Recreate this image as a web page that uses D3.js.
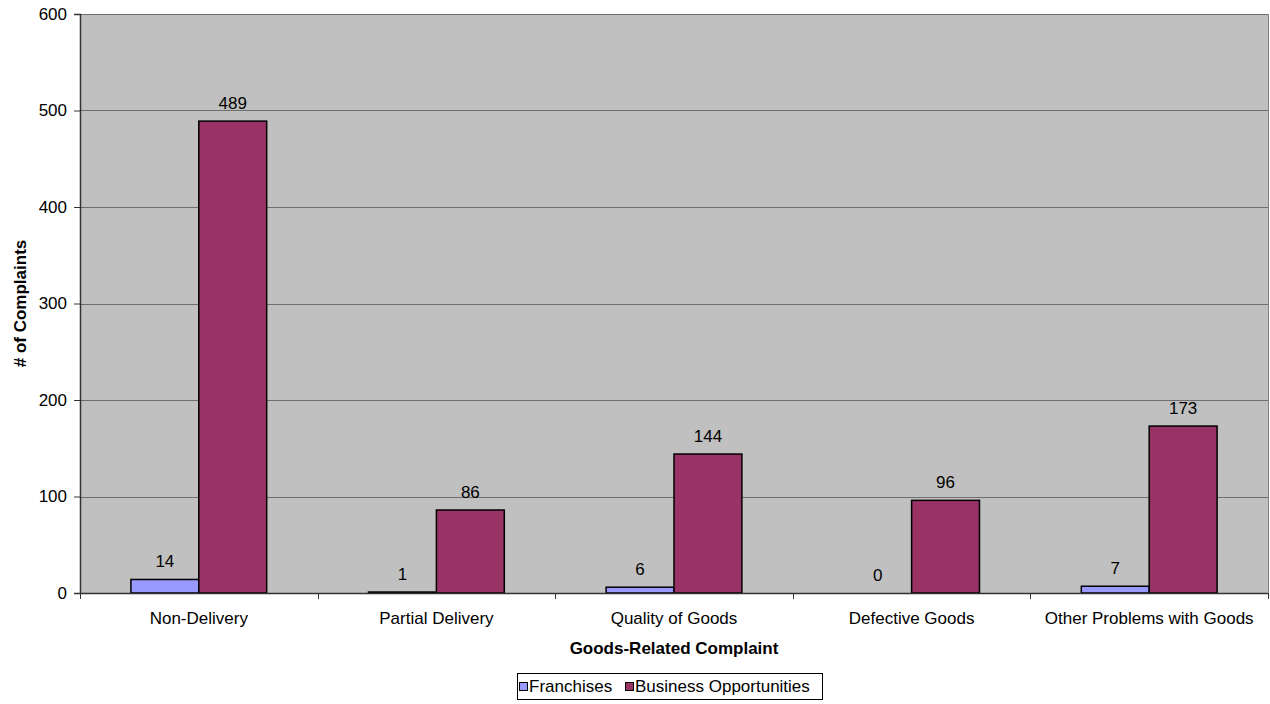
<!DOCTYPE html>
<html>
<head>
<meta charset="utf-8">
<script src="https://cdn.jsdelivr.net/npm/d3@7"></script>
<style>
  html, body { margin: 0; padding: 0; background: #fff; }
  svg text { font-family: "Liberation Sans", Arial, sans-serif; fill: #000; }
</style>
</head>
<body>
<svg id="chart" width="1270" height="704"></svg>
<script>
const categories = ["Non-Delivery", "Partial Delivery", "Quality of Goods", "Defective Goods", "Other Problems with Goods"];
const seriesNames = ["Franchises", "Business Opportunities"];
const franchises = [14, 1, 6, 0, 7];
const businessOpportunities = [489, 86, 144, 96, 173];
const yTicks = [0, 100, 200, 300, 400, 500, 600];
const colors = ["#9999FF", "#993366"];

const FONT = "Liberation Sans, Arial, sans-serif";
const svg = d3.select("#chart");
const plot = { left: 80, right: 1268, top: 14, bottom: 593 };

const x = d3.scaleBand().domain(categories).range([plot.left, plot.right]).paddingInner(0).paddingOuter(0);
const groupWidth = x.bandwidth() * 2 / 3.5;
const xs = d3.scaleBand().domain(seriesNames).range([0, groupWidth]).padding(0);
const y = d3.scaleLinear().domain([0, 600]).range([plot.bottom, plot.top]);

// plot background
svg.append("rect")
  .attr("x", plot.left).attr("y", plot.top)
  .attr("width", plot.right - plot.left).attr("height", plot.bottom - plot.top)
  .attr("fill", "#C0C0C0");

// gridlines
svg.append("g").selectAll("line").data(yTicks.filter(d => d > 0)).join("line")
  .attr("x1", plot.left).attr("x2", plot.right)
  .attr("y1", d => Math.round(y(d)) + 0.5).attr("y2", d => Math.round(y(d)) + 0.5)
  .attr("stroke", "#6e6e6e").attr("stroke-width", 1);

// right border of plot area
svg.append("line")
  .attr("x1", plot.right + 0.5).attr("x2", plot.right + 0.5)
  .attr("y1", plot.top).attr("y2", plot.bottom)
  .attr("stroke", "#808080");

// bars and value labels
const seriesData = [franchises, businessOpportunities];
seriesData.forEach((vals, si) => {
  const g = svg.append("g");
  const bx = c => x(c) + (x.bandwidth() - groupWidth) / 2 + xs(seriesNames[si]);
  g.selectAll("rect").data(categories).join("rect")
    .attr("x", c => bx(c))
    .attr("y", (c, i) => y(vals[i]))
    .attr("width", xs.bandwidth())
    .attr("height", (c, i) => y(0) - y(vals[i]))
    .attr("fill", colors[si])
    .attr("stroke", "#000").attr("stroke-width", (c, i) => vals[i] > 0 ? 1.5 : 0);
  g.selectAll("text").data(categories).join("text")
    .attr("x", c => bx(c) + xs.bandwidth() / 2)
    .attr("y", (c, i) => y(vals[i]) - 12)
    .attr("text-anchor", "middle")
    .attr("font-size", 17)
    .text((c, i) => vals[i]);
});

// y axis
const yAxis = d3.axisLeft(y).tickValues(yTicks).tickSize(6).tickPadding(7);
const gy = svg.append("g").attr("transform", `translate(${plot.left},0)`).call(yAxis);
gy.selectAll("path").attr("stroke", "#333").attr("stroke-width", 1.5);
gy.selectAll("line").attr("stroke", "#333");
gy.selectAll("text").attr("font-size", 17).style("font-family", FONT);

// x axis
const xAxis = d3.axisBottom(x).tickSize(0).tickPadding(19);
const gx = svg.append("g").attr("transform", `translate(0,${plot.bottom})`).call(xAxis);
gx.selectAll("path").attr("stroke", "#333").attr("stroke-width", 1.5).attr("d", `M${plot.left},0.5H${plot.right}`);
gx.selectAll("text").attr("font-size", 17).style("font-family", FONT);
// category boundary ticks
svg.append("g").selectAll("line").data(categories.concat(["end"])).join("line")
  .attr("x1", (c, i) => Math.round(plot.left + i * x.bandwidth()) + 0.5)
  .attr("x2", (c, i) => Math.round(plot.left + i * x.bandwidth()) + 0.5)
  .attr("y1", plot.bottom).attr("y2", plot.bottom + 6)
  .attr("stroke", "#333");

// axis titles
svg.append("text")
  .attr("x", (plot.left + plot.right) / 2).attr("y", 654)
  .attr("text-anchor", "middle").attr("font-size", 17).attr("font-weight", "bold")
  .text("Goods-Related Complaint");
svg.append("text")
  .attr("transform", `translate(26,${(plot.top + plot.bottom) / 2}) rotate(-90)`)
  .attr("text-anchor", "middle").attr("font-size", 17).attr("font-weight", "bold")
  .text("# of Complaints");

// legend
const legend = svg.append("g");
legend.append("rect")
  .attr("x", 517.5).attr("y", 673.5).attr("width", 305).attr("height", 26)
  .attr("fill", "#fff").attr("stroke", "#000");
const legendItems = [{ name: seriesNames[0], x: 519 }, { name: seriesNames[1], x: 625 }];
legendItems.forEach((d, i) => {
  legend.append("rect")
    .attr("x", d.x + 0.5).attr("y", 682.5).attr("width", 8).attr("height", 8)
    .attr("fill", colors[i]).attr("stroke", "#000");
  legend.append("text")
    .attr("x", d.x + 10).attr("y", 692)
    .attr("font-size", 17)
    .text(d.name);
});
</script>
</body>
</html>
